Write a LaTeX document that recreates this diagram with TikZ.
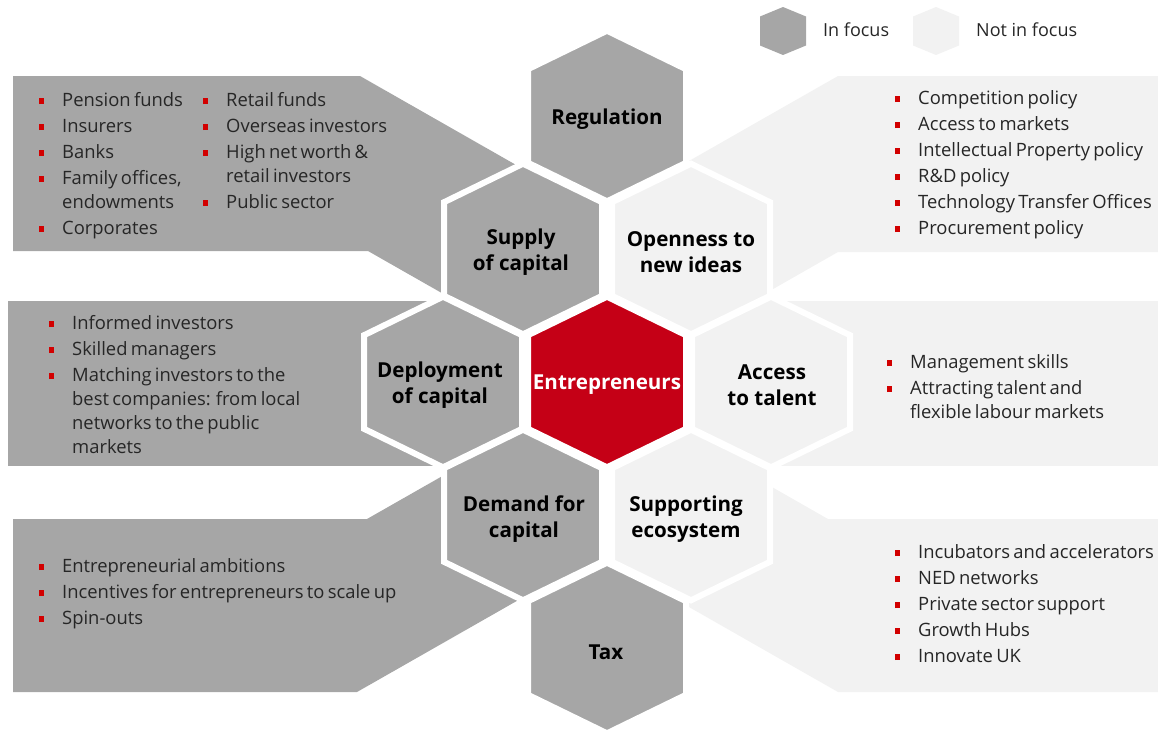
\documentclass[tikz,border=0pt]{standalone}
\usepackage{fontspec}
\setmainfont{Open Sans}
\definecolor{dkgray}{RGB}{166,166,166}
\definecolor{ltgray}{RGB}{242,242,242}
\definecolor{hexred}{RGB}{197,0,22}
\definecolor{bulred}{RGB}{210,0,0}
\definecolor{txtgray}{RGB}{38,38,38}
\newcommand{\hexshape}[3]{%
  \filldraw[fill=#3, draw=white, line width=6pt]
    (#1,#2-85.3) -- (#1+79,#2-46.8) -- (#1+79,#2+46.8) -- (#1,#2+85.3)
    -- (#1-79,#2+46.8) -- (#1-79,#2-46.8) -- cycle;}
\newcommand{\setbody}{\fontsize{18.4}{24}\selectfont\setlength{\parskip}{2pt}}
\newcommand{\bmark}{\hangindent=23pt\hangafter=1\noindent\makebox[23pt][l]{\textcolor{bulred}{\rule[1.8pt]{5pt}{6pt}}}}
\newcommand{\bfirst}{\bmark}
\newcommand{\bitem}{\par\bmark}
\tikzset{
  listtext/.style={anchor=base west, inner sep=0pt, text width=420pt, align=left, text=txtgray},
  hexlabel/.style={align=center, inner sep=0pt, font=\fontsize{20.6}{26}\selectfont\bfseries, text=black},
  legendtext/.style={anchor=base west, inner sep=0pt, font=\fontsize{18}{22}\selectfont, text=txtgray}
}
\begin{document}
\begin{tikzpicture}[x=1pt,y=-1pt]
\useasboundingbox (0,0) rectangle (1158,729);
% callouts
\fill[dkgray] (13,76) -- (360,76) -- (540,178.6) -- (523,249) -- (480,314.8) -- (368,251) -- (13,251) -- cycle;
\fill[dkgray] (8,301) rectangle (443,466);
\fill[dkgray] (13,519) -- (367,519) -- (500,443.2) -- (523,515) -- (540,587.7) -- (357,692) -- (13,692) -- cycle;
\fill[ltgray] (838,76) -- (1158,76) -- (1158,252) -- (838,252) -- (720,319.3) -- (691,249) -- (670,171.8) -- cycle;
\fill[ltgray] (771,301) rectangle (1158,466);
\fill[ltgray] (828,519) -- (1158,519) -- (1158,692) -- (838,692) -- (640,579.1) -- (691,515) -- (720,457.4) -- cycle;
% hexagons
\hexshape{607}{116}{dkgray}
\hexshape{523}{249}{dkgray}
\hexshape{691}{249}{ltgray}
\hexshape{443}{382}{dkgray}
\hexshape{607}{382}{hexred}
\hexshape{771}{382}{ltgray}
\hexshape{523}{515}{dkgray}
\hexshape{691}{515}{ltgray}
\hexshape{607}{648}{dkgray}
% legend
\fill[dkgray] (783,7) -- (806,16.5) -- (806,45.5) -- (783,55) -- (760,45.5) -- (760,16.5) -- cycle;
\fill[ltgray] (936,7) -- (959,16.5) -- (959,45.5) -- (936,55) -- (913,45.5) -- (913,16.5) -- cycle;
\node[legendtext] (lgA) at (823,36) {In focus};
\node[legendtext] (lgB) at (976,36) {Not in focus};
% hex labels
\node[hexlabel] (reg) at (607,119) {Regulation};
\node[hexlabel] (sup) at (521,252.5) {Supply\\of capital};
\node[hexlabel] (opn) at (691,252.5) {Openness to\\new ideas};
\node[hexlabel] (dep) at (440,385.5) {Deployment\\of capital};
\node[hexlabel, text=white] (ent) at (607,385) {Entrepreneurs};
\node[hexlabel] (acc) at (772,385.5) {Access\\to talent};
\node[hexlabel] (dem) at (524,519.5) {Demand for\\capital};
\node[hexlabel] (sue) at (686,519.5) {Supporting\\ecosystem};
\node[hexlabel] (tax) at (606,652) {Tax};
% lists
\node[listtext] (tlA) at (39,106) {\setbody\bfirst Pension funds\bitem Insurers\bitem Banks\bitem Family offices,\newline endowments\bitem Corporates\par};
\node[listtext] (tlB) at (203,106) {\setbody\bfirst Retail funds\bitem Overseas investors\bitem High net worth \&\newline retail investors\bitem Public sector\par};
\node[listtext] (ml) at (49,329) {\setbody\bfirst Informed investors\bitem Skilled managers\bitem Matching investors to the\newline best companies: from local\newline networks to the public\newline markets\par};
\node[listtext] (bl) at (39,572) {\setbody\bfirst Entrepreneurial ambitions\bitem Incentives for entrepreneurs to scale up\bitem Spin-outs\par};
\node[listtext] (tr) at (895,104) {\setbody\bfirst Competition policy\bitem Access to markets\bitem Intellectual Property policy\bitem R\&D policy\bitem Technology Transfer Offices\bitem Procurement policy\par};
\node[listtext] (mr) at (887,368) {\setbody\bfirst Management skills\bitem Attracting talent and\newline flexible labour markets\par};
\node[listtext] (br) at (895,558) {\setbody\bfirst Incubators and accelerators\bitem NED networks\bitem Private sector support\bitem Growth Hubs\bitem Innovate UK\par};
\end{tikzpicture}
\end{document}
